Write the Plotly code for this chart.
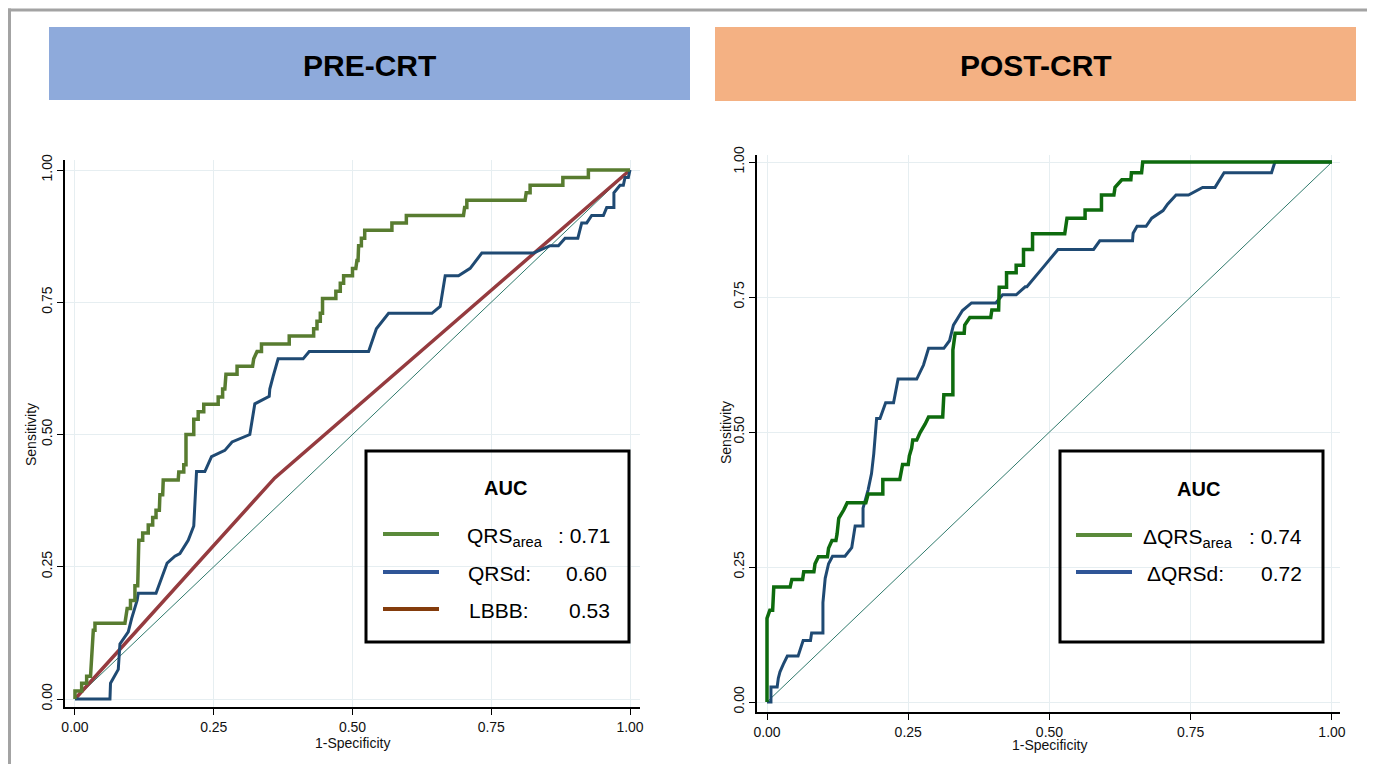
import plotly.graph_objects as go

W, H = 1375, 764
OFF = 8  # page body margin in the browser; coordinates below are screen pixels

# ---------------- data ----------------
tick_vals = [0, 0.25, 0.5, 0.75, 1.0]
tick_text = ["0.00", "0.25", "0.50", "0.75", "1.00"]

# PRE-CRT: QRS area
pre_qrsarea_fpr = [0, 0, 0.012, 0.012, 0.021, 0.021, 0.028, 0.03, 0.033, 0.036, 0.036, 0.09, 0.094, 0.1, 0.1,
                   0.108, 0.108, 0.113, 0.115, 0.122, 0.122, 0.132, 0.132, 0.14, 0.14, 0.146, 0.146, 0.152,
                   0.153, 0.158, 0.159, 0.186, 0.187, 0.196, 0.196, 0.2, 0.2, 0.214, 0.214, 0.222, 0.222,
                   0.232, 0.232, 0.258, 0.258, 0.266, 0.266, 0.27, 0.272, 0.292, 0.292, 0.32, 0.322, 0.328,
                   0.336, 0.336, 0.386, 0.386, 0.43, 0.43, 0.436, 0.436, 0.442, 0.442, 0.446, 0.446, 0.47,
                   0.47, 0.478, 0.478, 0.484, 0.484, 0.5, 0.5, 0.506, 0.508, 0.51, 0.511, 0.516, 0.516, 0.522,
                   0.522, 0.571, 0.571, 0.597, 0.597, 0.7, 0.702, 0.706, 0.706, 0.811, 0.813, 0.82, 0.82,
                   0.879, 0.879, 0.925, 0.925, 1.0]
pre_qrsarea_sens = [0, 0.015, 0.015, 0.03, 0.03, 0.043, 0.043, 0.086, 0.13, 0.13, 0.143, 0.143, 0.171, 0.171,
                    0.186, 0.186, 0.214, 0.214, 0.3, 0.3, 0.314, 0.314, 0.329, 0.329, 0.343, 0.343, 0.357,
                    0.357, 0.386, 0.386, 0.414, 0.414, 0.429, 0.429, 0.443, 0.443, 0.5, 0.5, 0.529, 0.529,
                    0.543, 0.543, 0.557, 0.557, 0.571, 0.571, 0.586, 0.586, 0.614, 0.614, 0.629, 0.629,
                    0.643, 0.657, 0.657, 0.671, 0.671, 0.686, 0.686, 0.7, 0.7, 0.714, 0.714, 0.729, 0.729,
                    0.757, 0.757, 0.771, 0.771, 0.786, 0.786, 0.8, 0.8, 0.814, 0.814, 0.829, 0.829, 0.857,
                    0.857, 0.871, 0.871, 0.886, 0.886, 0.9, 0.9, 0.914, 0.914, 0.929, 0.929, 0.943, 0.943,
                    0.957, 0.957, 0.971, 0.971, 0.986, 0.986, 1.0, 1.0]

# PRE-CRT: QRS duration
pre_qrsd_fpr = [0, 0.063, 0.064, 0.078, 0.081, 0.096, 0.102, 0.112, 0.114, 0.146, 0.166, 0.18, 0.189, 0.204,
                0.214, 0.219, 0.234, 0.246, 0.27, 0.283, 0.315, 0.324, 0.35, 0.351, 0.357, 0.366, 0.411,
                0.422, 0.529, 0.543, 0.565, 0.643, 0.658, 0.667, 0.691, 0.712, 0.733, 0.826, 0.856, 0.871,
                0.883, 0.906, 0.913, 0.922, 0.931, 0.952, 0.958, 0.971, 0.971, 0.982, 0.988, 0.991, 0.997,
                1.0]
pre_qrsd_sens = [0, 0, 0.03, 0.056, 0.104, 0.127, 0.152, 0.187, 0.2, 0.2, 0.257, 0.27, 0.275, 0.3, 0.327,
                 0.43, 0.43, 0.458, 0.47, 0.486, 0.5, 0.558, 0.572, 0.586, 0.61, 0.643, 0.643, 0.657, 0.657,
                 0.7, 0.729, 0.729, 0.742, 0.8, 0.8, 0.814, 0.843, 0.843, 0.857, 0.857, 0.871, 0.871, 0.9,
                 0.9, 0.914, 0.914, 0.929, 0.929, 0.957, 0.971, 0.971, 0.986, 0.986, 1.0]

# PRE-CRT: LBBB (binary)
pre_lbbb_fpr = [0, 0.36, 1.0]
pre_lbbb_sens = [0, 0.418, 1.0]

# POST-CRT: delta QRS area
post_qrsarea_fpr = [0, 0, 0.005, 0.01, 0.012, 0.041, 0.044, 0.063, 0.065, 0.083, 0.085, 0.091, 0.107, 0.109,
                    0.115, 0.122, 0.124, 0.127, 0.136, 0.142, 0.175, 0.179, 0.205, 0.205, 0.235, 0.237, 0.24,
                    0.25, 0.252, 0.256, 0.258, 0.265, 0.271, 0.28, 0.286, 0.311, 0.312, 0.313, 0.329, 0.329,
                    0.333, 0.349, 0.35, 0.359, 0.396, 0.398, 0.41, 0.411, 0.424, 0.424, 0.441, 0.441, 0.454,
                    0.454, 0.47, 0.47, 0.527, 0.529, 0.531, 0.563, 0.563, 0.592, 0.592, 0.614, 0.616, 0.628,
                    0.644, 0.645, 0.663, 0.665, 1.0]
post_qrsarea_sens = [0, 0.155, 0.17, 0.17, 0.213, 0.213, 0.227, 0.227, 0.241, 0.241, 0.256, 0.269, 0.269,
                     0.285, 0.299, 0.299, 0.311, 0.34, 0.356, 0.369, 0.369, 0.385, 0.385, 0.412, 0.412, 0.427,
                     0.44, 0.44, 0.456, 0.47, 0.485, 0.485, 0.499, 0.515, 0.528, 0.528, 0.554, 0.569, 0.569,
                     0.652, 0.683, 0.683, 0.698, 0.712, 0.712, 0.726, 0.726, 0.768, 0.768, 0.795, 0.795, 0.809,
                     0.809, 0.838, 0.838, 0.867, 0.867, 0.881, 0.896, 0.896, 0.911, 0.911, 0.939, 0.939, 0.953,
                     0.967, 0.967, 0.98, 0.98, 1.0, 1.0]

# POST-CRT: delta QRS duration
post_qrsd_fpr = [0, 0.007, 0.007, 0.018, 0.02, 0.023, 0.029, 0.036, 0.055, 0.064, 0.077, 0.079, 0.099, 0.099,
                 0.103, 0.109, 0.116, 0.138, 0.15, 0.156, 0.17, 0.17, 0.179, 0.185, 0.189, 0.191, 0.194, 0.2,
                 0.21, 0.224, 0.232, 0.265, 0.277, 0.286, 0.313, 0.323, 0.33, 0.346, 0.362, 0.405, 0.417,
                 0.441, 0.457, 0.46, 0.483, 0.492, 0.515, 0.578, 0.589, 0.647, 0.648, 0.655, 0.671, 0.681,
                 0.701, 0.709, 0.724, 0.746, 0.771, 0.793, 0.809, 0.893, 0.899, 1.0]
post_qrsd_sens = [0, 0, 0.028, 0.028, 0.044, 0.056, 0.07, 0.085, 0.085, 0.114, 0.114, 0.128, 0.128, 0.184,
                  0.229, 0.256, 0.27, 0.27, 0.286, 0.326, 0.326, 0.359, 0.393, 0.423, 0.46, 0.485, 0.525,
                  0.525, 0.554, 0.554, 0.598, 0.598, 0.624, 0.655, 0.655, 0.669, 0.698, 0.725, 0.739, 0.739,
                  0.754, 0.754, 0.769, 0.769, 0.799, 0.809, 0.838, 0.838, 0.854, 0.854, 0.868, 0.881, 0.881,
                  0.896, 0.91, 0.922, 0.939, 0.939, 0.953, 0.953, 0.98, 0.98, 1.0, 1.0]

ref_line = [0, 1]

panel_titles = ["PRE-CRT", "POST-CRT"]
pre_legend = [("QRS<sub>area</sub>", ": 0.71"), ("QRSd:", "0.60"), ("LBBB:", "0.53")]
post_legend = [("ΔQRS<sub>area</sub>", ": 0.74"), ("ΔQRSd:", "0.72")]

# ---------------- styling ----------------
FONT = "Liberation Sans, Arial, sans-serif"
C_GREEN_L = "#587c30"
C_BLUE = "#1f4a73"
C_RED = "#953b3f"
C_DIAG = "#2f7a6c"
C_GREEN_R = "#0e6b0e"
LEG_GREEN = "#5a8a3a"
LEG_BLUE = "#2f5597"
LEG_BROWN = "#843c0c"


def px(xp):
    return (xp - OFF) / W


def py(yp):
    return 1 - (yp - OFF) / H


fig = go.Figure()

# Left panel traces
fig.add_trace(go.Scatter(x=ref_line, y=ref_line, mode="lines", line=dict(color=C_DIAG, width=1),
                         xaxis="x", yaxis="y", showlegend=False, hoverinfo="skip"))
fig.add_trace(go.Scatter(x=pre_lbbb_fpr, y=pre_lbbb_sens, mode="lines", line=dict(color=C_RED, width=3.5),
                         xaxis="x", yaxis="y", showlegend=False))
fig.add_trace(go.Scatter(x=pre_qrsd_fpr, y=pre_qrsd_sens, mode="lines", line=dict(color=C_BLUE, width=3),
                         xaxis="x", yaxis="y", showlegend=False))
fig.add_trace(go.Scatter(x=pre_qrsarea_fpr, y=pre_qrsarea_sens, mode="lines",
                         line=dict(color=C_GREEN_L, width=3.5), xaxis="x", yaxis="y", showlegend=False))

# Right panel traces
fig.add_trace(go.Scatter(x=ref_line, y=ref_line, mode="lines", line=dict(color=C_DIAG, width=1),
                         xaxis="x2", yaxis="y2", showlegend=False, hoverinfo="skip"))
fig.add_trace(go.Scatter(x=post_qrsd_fpr, y=post_qrsd_sens, mode="lines", line=dict(color=C_BLUE, width=3),
                         xaxis="x2", yaxis="y2", showlegend=False))
fig.add_trace(go.Scatter(x=post_qrsarea_fpr, y=post_qrsarea_sens, mode="lines",
                         line=dict(color=C_GREEN_R, width=3.5), xaxis="x2", yaxis="y2", showlegend=False))

axis_common = dict(
    tickvals=tick_vals, ticktext=tick_text, showgrid=True, gridcolor="#e6eef1", gridwidth=1,
    zeroline=False, showline=True, linecolor="black", linewidth=1.5, ticks="outside", ticklen=6,
    tickcolor="black", tickwidth=1, tickfont=dict(family=FONT, size=14, color="#111111"),
    automargin=False,
)

fig.update_layout(
    width=W, height=H, margin=dict(l=0, r=0, t=0, b=0, pad=0, autoexpand=False),
    paper_bgcolor="white", plot_bgcolor="white", showlegend=False,
    xaxis=dict(domain=[px(65), px(640)], range=[-0.018, 1.018], anchor="y", **axis_common),
    yaxis=dict(domain=[py(707), py(160)], range=[-0.0151, 1.0189], anchor="x", tickangle=-90,
               **axis_common),
    xaxis2=dict(domain=[px(757), px(1340)], range=[-0.0177, 1.0142], anchor="y2", **axis_common),
    yaxis2=dict(domain=[py(712), py(155)], range=[-0.0185, 1.013], anchor="x2", tickangle=-90,
                **axis_common),
)

shapes = []
annotations = []

# Outer frame (top, left, right edges; open at the bottom like the reference crop)
frame = dict(color="#a3a3a3", width=3)
shapes.append(dict(type="line", xref="paper", yref="paper", x0=px(8), x1=px(1373), y0=py(10), y1=py(10),
                   line=frame))
shapes.append(dict(type="line", xref="paper", yref="paper", x0=px(9.5), x1=px(9.5), y0=py(8.5), y1=py(772),
                   line=frame))
shapes.append(dict(type="line", xref="paper", yref="paper", x0=px(1371.5), x1=px(1371.5), y0=py(8.5),
                   y1=py(772), line=frame))

# Banners
banner_boxes = [(49, 690, 27, 100, "#8eaadb"), (715, 1356, 27, 101, "#f4b183")]
for (x0, x1, y0, y1, col), title in zip(banner_boxes, panel_titles):
    shapes.append(dict(type="rect", xref="paper", yref="paper", x0=px(x0), x1=px(x1), y0=py(y1), y1=py(y0),
                       line=dict(width=0), fillcolor=col, layer="below"))
    annotations.append(dict(xref="paper", yref="paper", x=px((x0 + x1) / 2), y=py(65), text=f"<b>{title}</b>",
                            showarrow=False, xanchor="center", yanchor="middle",
                            font=dict(family=FONT, size=30, color="black")))

# Axis titles
for cx, cy in [(352, 743), (1049, 745)]:
    annotations.append(dict(xref="paper", yref="paper", x=px(cx), y=py(cy), text="1-Specificity",
                            showarrow=False, xanchor="center", yanchor="middle",
                            font=dict(family=FONT, size=14, color="#111111")))
for cx, cy in [(31, 435), (726, 433)]:
    annotations.append(dict(xref="paper", yref="paper", x=px(cx), y=py(cy), text="Sensitivity",
                            showarrow=False, xanchor="center", yanchor="middle", textangle=-90,
                            font=dict(family=FONT, size=14, color="#111111")))

# Legend boxes
legend_boxes = [
    dict(box=(366, 629, 451, 642), auc=(505, 488), line_x=(383, 439), rows=[534, 572, 609],
         label_x=[465, 466, 467], value_x=[556, 564, 567], colors=[LEG_GREEN, LEG_BLUE, LEG_BROWN],
         items=pre_legend),
    dict(box=(1060, 1323, 451, 642), auc=(1198, 489), line_x=(1076, 1132), rows=[535, 572],
         label_x=[1141, 1145], value_x=[1247, 1259], colors=[LEG_GREEN, LEG_BLUE], items=post_legend),
]
for lb in legend_boxes:
    bx0, bx1, by0, by1 = lb["box"]
    shapes.append(dict(type="rect", xref="paper", yref="paper", x0=px(bx0), x1=px(bx1), y0=py(by1), y1=py(by0),
                       line=dict(color="black", width=3), fillcolor="rgba(0,0,0,0)", layer="above"))
    annotations.append(dict(xref="paper", yref="paper", x=px(lb["auc"][0]), y=py(lb["auc"][1]),
                            text="<b>AUC</b>", showarrow=False, xanchor="center", yanchor="middle",
                            font=dict(family=FONT, size=20, color="black")))
    for (lab, val), ry, lx, vx, col in zip(lb["items"], lb["rows"], lb["label_x"], lb["value_x"], lb["colors"]):
        shapes.append(dict(type="line", xref="paper", yref="paper", x0=px(lb["line_x"][0]),
                           x1=px(lb["line_x"][1]), y0=py(ry), y1=py(ry), line=dict(color=col, width=4)))
        annotations.append(dict(xref="paper", yref="paper", x=px(lx), y=py(ry - 12), text=lab,
                                showarrow=False, xanchor="left", yanchor="top",
                                font=dict(family=FONT, size=21, color="black")))
        annotations.append(dict(xref="paper", yref="paper", x=px(vx), y=py(ry - 12), text=val,
                                showarrow=False, xanchor="left", yanchor="top",
                                font=dict(family=FONT, size=21, color="black")))

fig.update_layout(shapes=shapes, annotations=annotations)

fig.write_html("out.html")
